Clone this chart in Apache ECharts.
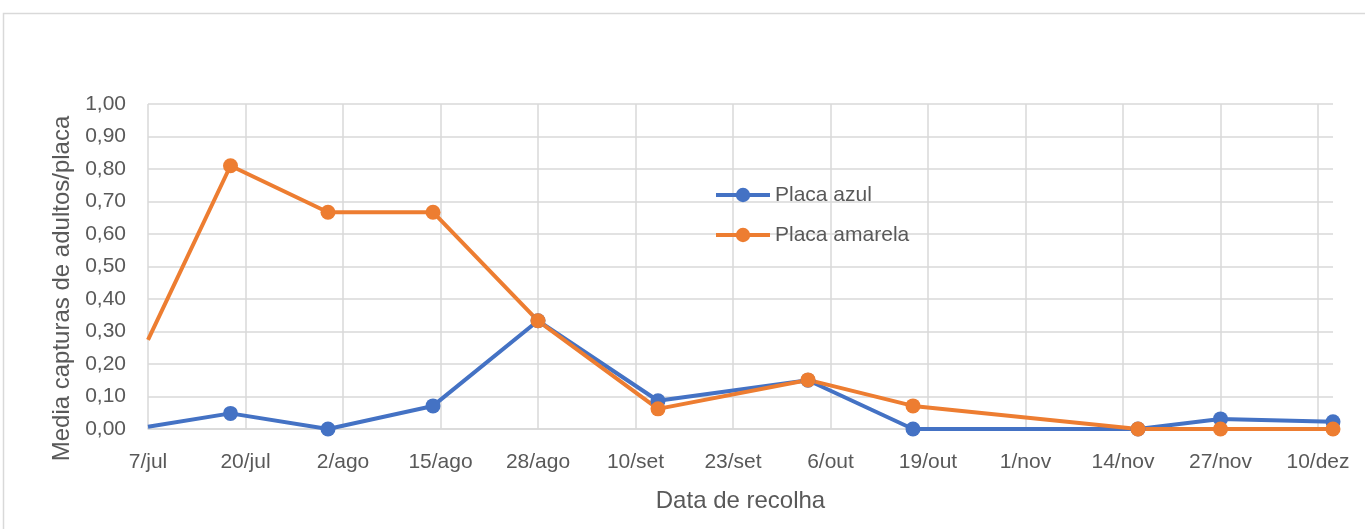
<!DOCTYPE html>
<html>
<head>
<meta charset="utf-8">
<script src="https://cdn.jsdelivr.net/npm/echarts@6/dist/echarts.min.js"></script>
<style>
  html, body { margin: 0; padding: 0; background: #ffffff; }
  #chart { width: 1365px; height: 529px; }
</style>
</head>
<body>
<div id="chart"></div>
<script>
// ---- data ----
const axisStart = '2021-07-07';
const axisEnd = '2021-12-12';
const tickLabels = ['7/jul', '20/jul', '2/ago', '15/ago', '28/ago', '10/set', '23/set', '6/out', '19/out', '1/nov', '14/nov', '27/nov', '10/dez'];
const sampleDates = ['2021-07-07', '2021-07-18', '2021-07-31', '2021-08-14', '2021-08-28', '2021-09-13', '2021-10-03', '2021-10-17', '2021-11-16', '2021-11-27', '2021-12-12'];
const placaAzul = [0.007, 0.048, 0.000, 0.071, 0.333, 0.087, 0.150, 0.000, 0.000, 0.031, 0.022];
const placaAmarela = [0.274, 0.810, 0.667, 0.667, 0.333, 0.062, 0.151, 0.071, 0.000, 0.000, 0.000];
const seriesNames = ['Placa azul', 'Placa amarela'];
const yTitle = 'Media capturas de adultos/placa';
const xTitle = 'Data de recolha';

// ---- helpers ----
const DAY = 86400000;
const dayOf = d => Math.round((Date.parse(d + 'T00:00:00Z') - Date.parse(axisStart + 'T00:00:00Z')) / DAY);
const xMax = dayOf(axisEnd);
const toPoints = vals => vals.map((v, i) => {
  const item = { value: [dayOf(sampleDates[i]), v] };
  if (i === 0) item.symbol = 'none';
  return item;
});

const FONT = "'Liberation Sans', Arial, sans-serif";
const TXT = '#595959';
const GRID = '#d9d9d9';

const chart = echarts.init(document.getElementById('chart'), null, { renderer: 'canvas' });
chart.setOption({
  animation: false,
  backgroundColor: '#ffffff',
  textStyle: { fontFamily: FONT },
  graphic: [{
    type: 'rect', silent: true, z: -10,
    shape: { x: 3.5, y: 13.5, width: 1500, height: 700 },
    style: { fill: 'none', stroke: GRID, lineWidth: 1.5 }
  }],
  grid: { left: 148, right: 32, top: 104, bottom: 100, containLabel: false },
  legend: {
    orient: 'vertical',
    left: 714, top: 183, padding: 0,
    itemWidth: 54, itemHeight: 18, itemGap: 16,
    lineStyle: { width: 4 },
    textStyle: { color: TXT, fontSize: 21, fontFamily: FONT, lineHeight: 24 },
    data: seriesNames
  },
  xAxis: {
    type: 'value', min: 0, max: xMax, interval: 13,
    name: xTitle, nameLocation: 'middle', nameGap: 60,
    nameTextStyle: { color: TXT, fontSize: 24, fontFamily: FONT },
    axisLine: { show: true, lineStyle: { color: GRID, width: 1.5 } },
    axisTick: { show: false },
    axisLabel: {
      color: TXT, fontSize: 21, fontFamily: FONT, margin: 23,
      showMaxLabel: false,
      formatter: v => (v % 13 === 0 ? (tickLabels[v / 13] || '') : '')
    },
    splitLine: { show: true, showMinLine: true, showMaxLine: false, lineStyle: { color: GRID, width: 1.5 } }
  },
  yAxis: {
    type: 'value', min: 0, max: 1, interval: 0.1,
    name: yTitle, nameLocation: 'middle', nameGap: 74,
    nameTextStyle: { color: TXT, fontSize: 24, fontFamily: FONT, padding: [0, 44, 0, 0] },
    axisLine: { show: false },
    axisTick: { show: false },
    axisLabel: {
      color: TXT, fontSize: 21, fontFamily: FONT, margin: 22,
      formatter: v => v.toFixed(2).replace('.', ',')
    },
    splitLine: { show: true, lineStyle: { color: GRID, width: 1.5 } }
  },
  series: [
    {
      name: seriesNames[0], type: 'line', data: toPoints(placaAzul),
      symbol: 'circle', symbolSize: 15, showAllSymbol: true,
      lineStyle: { color: '#4472C4', width: 4 },
      itemStyle: { color: '#4472C4' },
      clip: false
    },
    {
      name: seriesNames[1], type: 'line', data: toPoints(placaAmarela),
      symbol: 'circle', symbolSize: 15, showAllSymbol: true,
      lineStyle: { color: '#ED7D31', width: 4 },
      itemStyle: { color: '#ED7D31' },
      clip: false
    }
  ]
});
</script>
</body>
</html>
